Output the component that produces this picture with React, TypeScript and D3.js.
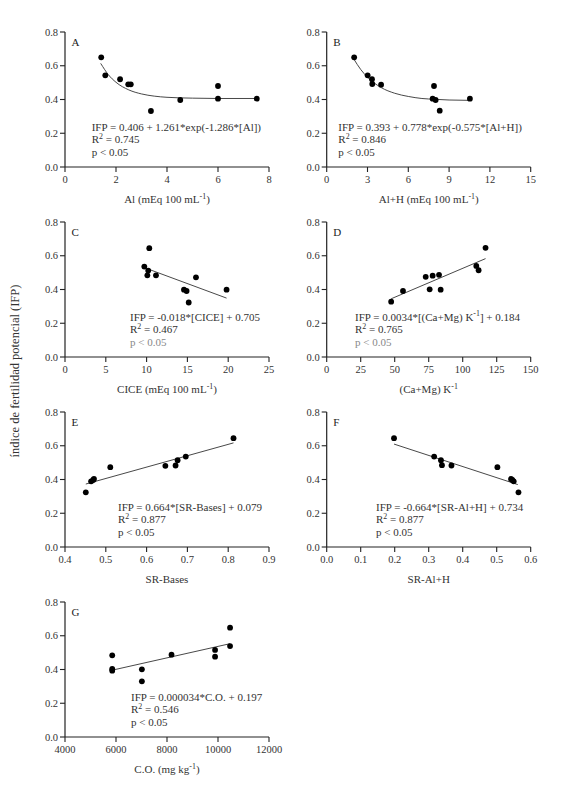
import React from 'react';
import * as d3 from 'd3';

// eje Y común (IFP)
const ifpTicks = [0, 0.2, 0.4, 0.6, 0.8];

// A - Al
const alX = [1.42, 1.58, 2.16, 2.48, 2.58, 3.37, 4.52, 6.0, 6.0, 7.52];
const alY = [0.65, 0.543, 0.52, 0.49, 0.49, 0.332, 0.397, 0.48, 0.405, 0.405];
const alFitX = [1.4, 1.7, 2, 2.5, 3, 3.5, 4, 5, 6, 7.5];
const alFitY = [0.614, 0.547, 0.502, 0.457, 0.433, 0.42, 0.413, 0.408, 0.406, 0.406];
const alTicks = [0, 2, 4, 6, 8];

// B - Al+H
const alhX = [2.02, 3.01, 3.33, 3.35, 4.0, 7.79, 7.89, 8.01, 8.31, 10.53];
const alhY = [0.65, 0.543, 0.52, 0.492, 0.488, 0.405, 0.48, 0.397, 0.334, 0.405];
const alhFitX = [2, 2.5, 3, 4, 5, 6, 7, 8, 9, 10.5];
const alhFitY = [0.639, 0.578, 0.532, 0.471, 0.437, 0.418, 0.406, 0.401, 0.397, 0.395];
const alhTicks = [0, 3, 6, 9, 12, 15];

// C - CICE
const ciceX = [9.72, 10.33, 10.2, 10.09, 11.15, 14.58, 14.9, 15.16, 16.05, 19.8];
const ciceY = [0.536, 0.645, 0.512, 0.484, 0.484, 0.399, 0.391, 0.323, 0.472, 0.399];
const ciceFitX = [9.7, 19.8];
const ciceFitY = [0.53, 0.349];
const ciceTicks = [0, 5, 10, 15, 20, 25];

// D - (Ca+Mg) K-1
const camgX = [47.4, 56.1, 72.8, 77.9, 75.7, 82.6, 83.8, 110, 111.7, 116.8];
const camgY = [0.328, 0.391, 0.475, 0.482, 0.401, 0.487, 0.399, 0.54, 0.514, 0.647];
const camgFitX = [47.4, 116.8];
const camgFitY = [0.345, 0.583];
const camgTicks = [0, 25, 50, 75, 100, 125, 150];

// E - SR-Bases
const srbX = [0.451, 0.464, 0.469, 0.471, 0.511, 0.646, 0.671, 0.676, 0.696, 0.813];
const srbY = [0.324, 0.389, 0.397, 0.403, 0.473, 0.481, 0.483, 0.514, 0.536, 0.645];
const srbFitX = [0.451, 0.813];
const srbFitY = [0.373, 0.617];
const srbTicks = [0.4, 0.5, 0.6, 0.7, 0.8, 0.9];

// F - SR-Al+H
const sralX = [0.198, 0.316, 0.336, 0.339, 0.367, 0.502, 0.542, 0.546, 0.55, 0.564];
const sralY = [0.645, 0.536, 0.514, 0.485, 0.483, 0.473, 0.403, 0.397, 0.389, 0.324];
const sralFitX = [0.198, 0.562];
const sralFitY = [0.61, 0.37];
const sralTicks = [0, 0.1, 0.2, 0.3, 0.4, 0.5, 0.6];

// G - C.O.
const coX = [5852, 5852, 5852, 7015, 7015, 8177, 9885, 9885, 10473, 10473];
const coY = [0.484, 0.403, 0.393, 0.401, 0.33, 0.488, 0.516, 0.476, 0.648, 0.539];
const coFitX = [5852, 10473];
const coFitY = [0.396, 0.553];
const coTicks = [4000, 6000, 8000, 10000, 12000];

const W = 204;
const H = 135;
const colLeft = [65, 326.7];
const rowTop = [32, 222, 412, 602];
const FONT = '"Liberation Serif", "Times New Roman", serif';
const INK = '#222';

const zip = (a: number[], b: number[]) => a.map((v, i) => [v, b[i]] as [number, number]);

// "R^{2}" -> tspans con superíndice
const Rich = ({ text, size }: { text: string; size: number }) => {
  const parts = text.split(/\^\{(.*?)\}/);
  return (
    <>
      {parts.map((p, i) =>
        i % 2 === 1 ? (
          <tspan key={i} dy={-size * 0.4} fontSize={size * 0.72}>{p}</tspan>
        ) : (
          <tspan key={i} dy={i > 0 ? size * 0.4 : 0}>{p}</tspan>
        )
      )}
    </>
  );
};

const panels = [
  { id: 'A', col: 0, row: 0, domain: [0, 8], ticks: alTicks, fmt: 'd', xs: alX, ys: alY, fx: alFitX, fy: alFitY, curved: true,
    title: 'Al (mEq 100 mL^{-1})', eq: ['IFP = 0.406 + 1.261*exp(-1.286*[Al])', 'R^{2} = 0.745', 'p < 0.05'], eqDx: 26.7, pGray: false },
  { id: 'B', col: 1, row: 0, domain: [0, 15], ticks: alhTicks, fmt: 'd', xs: alhX, ys: alhY, fx: alhFitX, fy: alhFitY, curved: true,
    title: 'Al+H (mEq 100 mL^{-1})', eq: ['IFP = 0.393 + 0.778*exp(-0.575*[Al+H])', 'R^{2} = 0.846', 'p < 0.05'], eqDx: 11.6, pGray: false },
  { id: 'C', col: 0, row: 1, domain: [0, 25], ticks: ciceTicks, fmt: 'd', xs: ciceX, ys: ciceY, fx: ciceFitX, fy: ciceFitY, curved: false,
    title: 'CICE (mEq 100 mL^{-1})', eq: ['IFP = -0.018*[CICE] + 0.705', 'R^{2} = 0.467', 'p < 0.05'], eqDx: 65, pGray: true },
  { id: 'D', col: 1, row: 1, domain: [0, 150], ticks: camgTicks, fmt: 'd', xs: camgX, ys: camgY, fx: camgFitX, fy: camgFitY, curved: false,
    title: '(Ca+Mg) K^{-1}', eq: ['IFP = 0.0034*[(Ca+Mg) K^{-1}] + 0.184', 'R^{2} = 0.765', 'p < 0.05'], eqDx: 28.3, pGray: true },
  { id: 'E', col: 0, row: 2, domain: [0.4, 0.9], ticks: srbTicks, fmt: '.1f', xs: srbX, ys: srbY, fx: srbFitX, fy: srbFitY, curved: false,
    title: 'SR-Bases', eq: ['IFP = 0.664*[SR-Bases] + 0.079', 'R^{2} = 0.877', 'p < 0.05'], eqDx: 53, pGray: false },
  { id: 'F', col: 1, row: 2, domain: [0, 0.6], ticks: sralTicks, fmt: '.1f', xs: sralX, ys: sralY, fx: sralFitX, fy: sralFitY, curved: false,
    title: 'SR-Al+H', eq: ['IFP = -0.664*[SR-Al+H] + 0.734', 'R^{2} = 0.877', 'p < 0.05'], eqDx: 49.3, pGray: false },
  { id: 'G', col: 0, row: 3, domain: [4000, 12000], ticks: coTicks, fmt: 'd', xs: coX, ys: coY, fx: coFitX, fy: coFitY, curved: false,
    title: 'C.O. (mg kg^{-1})', eq: ['IFP = 0.000034*C.O. + 0.197', 'R^{2} = 0.546', 'p < 0.05'], eqDx: 66, pGray: false },
];

const Panel = ({ p }: { p: typeof panels[number] }) => {
  const left = colLeft[p.col];
  const top = rowTop[p.row];
  const bottom = top + H;
  const x = d3.scaleLinear().domain(p.domain).range([left, left + W]);
  const y = d3.scaleLinear().domain([0, 0.8]).range([bottom, top]);
  const xf = d3.format(p.fmt);
  const yf = d3.format('.1f');
  const line = d3.line<[number, number]>()
    .x(d => x(d[0]))
    .y(d => y(d[1]))
    .curve(p.curved ? d3.curveMonotoneX : d3.curveLinear);
  const eqY = [bottom - 36.5, bottom - 24, bottom - 11.5];

  return (
    <g>
      {/* eje Y */}
      <line x1={left} x2={left} y1={y(0)} y2={y(0.8)} stroke={INK} strokeWidth={1.2} />
      {ifpTicks.map(t => (
        <g key={t}>
          <line x1={left - 5} x2={left} y1={y(t)} y2={y(t)} stroke={INK} strokeWidth={1.1} />
          <text x={left - 7} y={y(t)} dy="0.35em" textAnchor="end" fontSize={10.5} fill="#333">{yf(t)}</text>
        </g>
      ))}
      {/* eje X */}
      <line x1={x(p.domain[0])} x2={x(p.domain[1])} y1={bottom} y2={bottom} stroke={INK} strokeWidth={1.2} />
      {p.ticks.map(t => (
        <g key={t}>
          <line x1={x(t)} x2={x(t)} y1={bottom} y2={bottom + 5} stroke={INK} strokeWidth={1.1} />
          <text x={x(t)} y={bottom + 16} textAnchor="middle" fontSize={10.5} fill="#333">{xf(t)}</text>
        </g>
      ))}
      <text x={left + W / 2} y={bottom + 36} textAnchor="middle" fontSize={11} fill="#333">
        <Rich text={p.title} size={11} />
      </text>
      {/* letra del panel */}
      <text x={left + 6.5} y={top + 13.5} fontSize={11} fill={INK}>{p.id}</text>
      {/* ajuste */}
      <path d={line(zip(p.fx, p.fy)) || ''} fill="none" stroke="#333" strokeWidth={0.9} />
      {/* puntos */}
      {p.xs.map((v, i) => (
        <circle key={i} cx={x(v)} cy={y(p.ys[i])} r={2.9} fill="#000" />
      ))}
      {/* ecuación */}
      {p.eq.map((s, i) => (
        <text key={i} x={left + p.eqDx} y={eqY[i]} fontSize={11}
          fill={i === 2 && p.pGray ? '#888' : '#333'}>
          <Rich text={s} size={11} />
        </text>
      ))}
    </g>
  );
};

export default function App() {
  return (
    <svg width={579} height={799} viewBox="0 0 579 799"
      style={{ position: 'absolute', left: 0, top: 0, background: '#fff', fontFamily: FONT }}>
      <rect width={579} height={799} fill="#fff" />
      <text transform="translate(19,371) rotate(-90)" textAnchor="middle" fontSize={12.5} fill="#333">
        índice de fertilidad potencial (IFP)
      </text>
      {panels.map(p => <Panel key={p.id} p={p} />)}
    </svg>
  );
}
